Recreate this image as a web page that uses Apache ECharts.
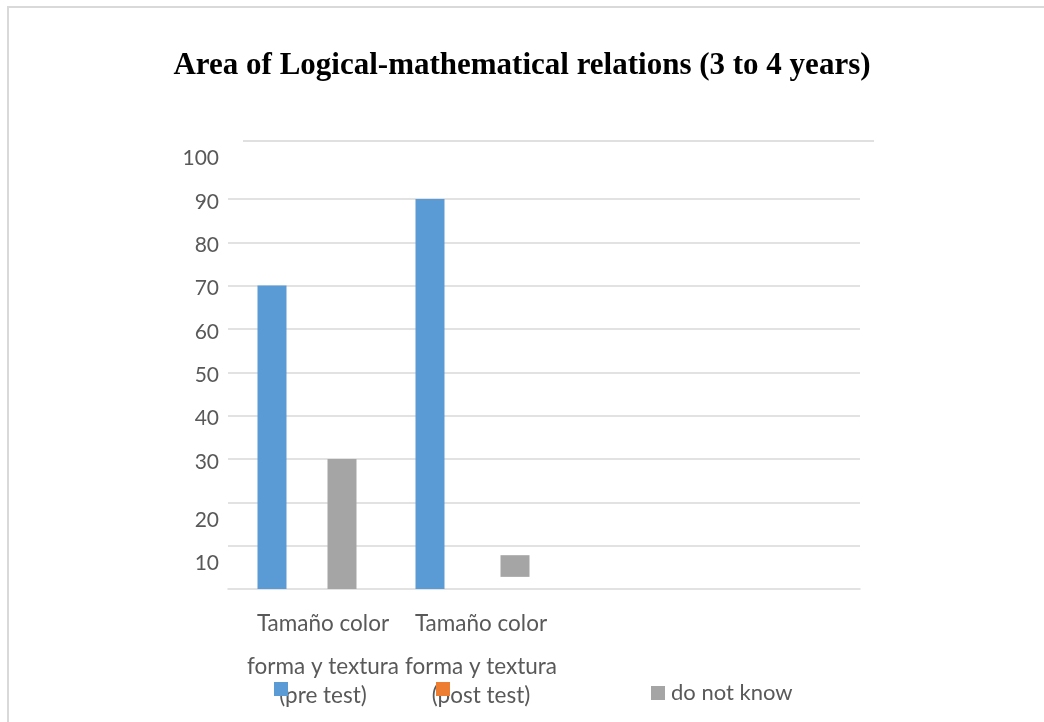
<!DOCTYPE html>
<html>
<head>
<meta charset="utf-8">
<script src="https://cdn.jsdelivr.net/npm/echarts@6/dist/echarts.min.js"></script>
<style>
html,body{margin:0;padding:0;background:#fff;}
#chart{width:1044px;height:722px;}
</style>
</head>
<body>
<div id="chart"></div>
<script>
// ---- data ----
var titleText = 'Area of Logical-mathematical relations (3 to 4 years)';
var categories = ['Tamaño color forma y textura (pre test)', 'Tamaño color forma y textura (post test)', '', ''];
var seriesNames = ['pre test', 'post test', 'do not know'];
var preTest = [70, 90, null, null];
var postTest = [null, null, null, null];
var doNotKnow = [30, null, null, null];
// floating "do not know" bar in the second group: low and high ends
var doNotKnowFloatLow = [null, 2.8, null, null];
var doNotKnowFloatHigh = [null, 7.8, null, null];
var yTicks = [10, 20, 30, 40, 50, 60, 70, 80, 90, 100];

var floatSpan = doNotKnowFloatHigh.map(function (h, i) {
  return h == null ? null : +(h - doNotKnowFloatLow[i]).toFixed(2);
});

var C_BLUE = '#5b9bd5', C_ORANGE = '#ed7d31', C_GRAY = '#a5a5a5';
var TXT = '#595959';
var FONT = 'Lato';
var XFS = 22.5;

function splitCat(s) {
  if (!s) return '';
  var m = s.match(/^(\S+ \S+) (.+?) (\(.+\))$/);
  if (!m) return s;
  return '{a|' + m[1] + '}\n{b|' + m[2] + '}\n{c|' + m[3] + '}';
}

var chart = echarts.init(document.getElementById('chart'), null, {renderer: 'canvas'});
var gridColors = yTicks.map(function (v) { return v === 100 ? 'rgba(0,0,0,0)' : '#d9d9d9'; });
gridColors.unshift('rgba(0,0,0,0)');

var option = {
  backgroundColor: '#fff',
  animation: false,
  title: {
    text: titleText,
    left: 'center',
    top: 45,
    textStyle: {fontFamily: 'Liberation Serif', fontWeight: 'bold', fontSize: 31, color: '#000'}
  },
  graphic: [
    {type: 'rect', shape: {x: 8, y: 7, width: 1200, height: 900}, style: {fill: 'none', stroke: '#d9d9d9', lineWidth: 2}, silent: true},
    {type: 'line', shape: {x1: 243, y1: 141, x2: 874, y2: 141}, style: {stroke: '#e0e0e0', lineWidth: 2}, silent: true}
  ],
  legend: [
    {data: [seriesNames[0]], left: 274, top: 682, padding: 0, icon: 'rect', itemWidth: 14, itemHeight: 14,
     formatter: function () { return ''; }, selectedMode: false},
    {data: [seriesNames[1]], left: 436, top: 682, padding: 0, icon: 'rect', itemWidth: 14, itemHeight: 14,
     formatter: function () { return ''; }, selectedMode: false},
    {data: [seriesNames[2]], left: 651, top: 682, padding: 0, icon: 'rect', itemWidth: 14, itemHeight: 14,
     selectedMode: false,
     textStyle: {fontFamily: FONT, fontSize: 22, color: TXT, lineHeight: 14, padding: [2, 0, 0, 1]}}
  ],
  grid: {left: 228, right: 184, top: 155.6, bottom: 133, containLabel: false},
  xAxis: [
    {
      type: 'category', data: categories,
      axisLine: {show: true, lineStyle: {color: '#d9d9d9', width: 1.5}},
      axisTick: {show: false},
      axisLabel: {
        interval: 0, margin: 6, color: TXT, fontFamily: FONT, fontSize: XFS,
        formatter: splitCat,
        rich: {
          a: {fontFamily: FONT, fontSize: XFS, color: TXT, lineHeight: 57, padding: [0, 0, 0, 32]},
          b: {fontFamily: FONT, fontSize: XFS, color: TXT, lineHeight: 29, padding: [0, 0, 0, 32]},
          c: {fontFamily: FONT, fontSize: XFS, color: TXT, lineHeight: 29, padding: [0, 0, 0, 32]}
        }
      }
    },
    {type: 'category', data: categories, show: false}
  ],
  yAxis: {
    type: 'value', min: 0, max: 100, interval: 10,
    axisLine: {show: false}, axisTick: {show: false},
    splitLine: {show: true, lineStyle: {color: gridColors, width: 1.5}},
    axisLabel: {
      margin: 9, color: TXT, fontFamily: FONT, fontSize: 21,
      formatter: function (v) {
        if (v === 0) return '';
        return (v <= 20 ? '{lo|' : '{n|') + v + '}';
      },
      rich: {
        n: {fontFamily: FONT, fontSize: 21, color: TXT, padding: [6, 0, 0, 0]},
        lo: {fontFamily: FONT, fontSize: 21, color: TXT, padding: [36, 0, 0, 0]}
      }
    }
  },
  series: [
    {name: seriesNames[0], type: 'bar', xAxisIndex: 0, data: preTest, barWidth: 29, barGap: '20.7%',
     itemStyle: {color: C_BLUE}},
    {name: seriesNames[1], type: 'bar', xAxisIndex: 0, data: postTest, barWidth: 29, barGap: '20.7%',
     itemStyle: {color: C_ORANGE}},
    {name: seriesNames[2], type: 'bar', xAxisIndex: 0, data: doNotKnow, barWidth: 29, barGap: '20.7%',
     itemStyle: {color: C_GRAY}},
    // second group's floating "do not know" bar
    {name: '_spacer', type: 'bar', xAxisIndex: 1, data: [null, null, null, null], barWidth: 29, barGap: '244.8%',
     itemStyle: {color: 'rgba(0,0,0,0)'}, silent: true},
    {name: '_floatBase', type: 'bar', xAxisIndex: 1, stack: 'dnk', data: doNotKnowFloatLow, barWidth: 29, barGap: '244.8%',
     itemStyle: {color: 'rgba(0,0,0,0)'}, silent: true},
    {name: seriesNames[2], type: 'bar', xAxisIndex: 1, stack: 'dnk', data: floatSpan, barWidth: 29, barGap: '244.8%',
     itemStyle: {color: C_GRAY}}
  ]
};
chart.setOption(option);
</script>
</body>
</html>
